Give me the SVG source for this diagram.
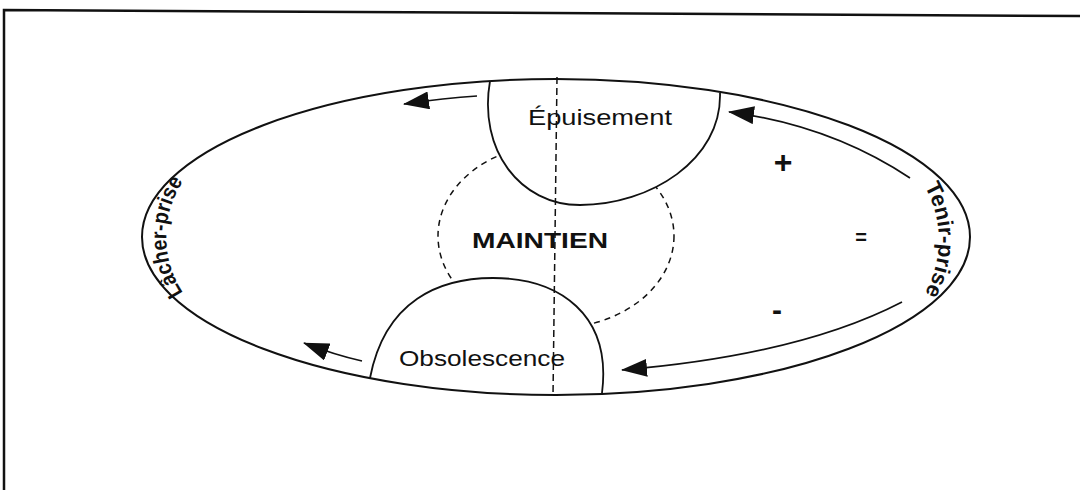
<svg xmlns="http://www.w3.org/2000/svg" width="1080" height="490" viewBox="0 0 1080 490">
<style>
.lbl{font-family:"Liberation Sans",Arial,sans-serif;fill:#111;}
.dash{fill:none;stroke:#111;stroke-width:1.5;stroke-dasharray:7 4;}
.arr{fill:none;stroke:#111;stroke-width:1.7;marker-end:url(#ah);}
.side{font-family:"Liberation Sans",Arial,sans-serif;font-weight:bold;font-size:22px;fill:#111;}
</style>
<defs>
<marker id="ah" markerUnits="userSpaceOnUse" markerWidth="26" markerHeight="18" viewBox="0 0 26 18" refX="25" refY="9" orient="auto">
<path d="M0,0 L26,9 L0,18 z" fill="#111"/>
</marker>
<path id="pLeft" d="M190,302 A101,101 0 0 1 190,172"/>
<path id="pRight" d="M918,176 A109,109 0 0 1 918,304"/>
</defs>
<rect width="1080" height="490" fill="#fff"/>
<polyline points="4,490 4,10 1080,16" fill="none" stroke="#111" stroke-width="2.5"/>

<g id="maintien">
<ellipse cx="556" cy="236" rx="118" ry="92" fill="none" stroke="#111" stroke-width="1.5" stroke-dasharray="6 5"/>
<text class="lbl" x="540" y="248" font-size="22" font-weight="bold" text-anchor="middle" textLength="136" lengthAdjust="spacingAndGlyphs">MAINTIEN</text>
</g>

<g id="epuisement">
<path d="M490,81 C478,150 520,205 580,205 C650,205 722,160 720,93" fill="#fff" stroke="#111" stroke-width="1.8"/>
</g>

<g id="obsolescence">
<path d="M370,378 C385,300 440,278 493,278 C560,278 612,315 602,393" fill="#fff" stroke="#111" stroke-width="1.8"/>
</g>

<g id="cycle">
<ellipse cx="556" cy="237" rx="414" ry="158" fill="none" stroke="#111" stroke-width="2"/>
</g>

<line x1="557" y1="77" x2="553" y2="396" class="dash"/>

<g id="labels">
<text class="lbl" x="600" y="125" font-size="22" text-anchor="middle" textLength="144" lengthAdjust="spacingAndGlyphs">Épuisement</text>
<text class="lbl" x="482" y="366" font-size="22" text-anchor="middle" textLength="166" lengthAdjust="spacingAndGlyphs">Obsolescence</text>
<text class="side"><textPath href="#pLeft" startOffset="50%" text-anchor="middle" textLength="118" lengthAdjust="spacingAndGlyphs">Lâcher-prise</textPath></text>
<text class="side"><textPath href="#pRight" startOffset="50%" text-anchor="middle" textLength="112" lengthAdjust="spacingAndGlyphs">Tenir-prise</textPath></text>
<text class="lbl" x="783" y="173" font-size="32" font-weight="bold" text-anchor="middle">+</text>
<text class="lbl" x="861" y="244" font-size="20" font-weight="bold" text-anchor="middle">=</text>
<text class="lbl" x="777" y="320" font-size="30" font-weight="bold" text-anchor="middle">-</text>
</g>

<g id="connectors">
<path class="arr" d="M477,96 Q445,98 404,104"/>
<path class="arr" d="M910,178 Q830,125 729,112"/>
<path class="arr" d="M902,302 Q800,355 622,370"/>
<path class="arr" d="M362,361 Q335,355 304,343"/>
</g>
</svg>
